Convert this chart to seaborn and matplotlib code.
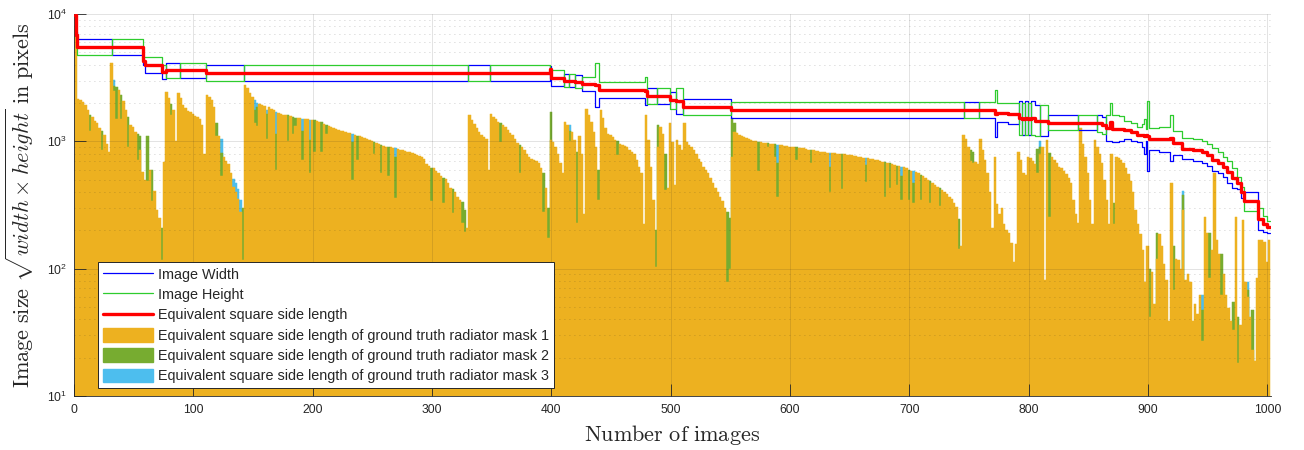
import numpy as np
import pandas as pd
import matplotlib
matplotlib.use("Agg")
import matplotlib.pyplot as plt
from matplotlib.lines import Line2D
from matplotlib.patches import Patch
from matplotlib.ticker import LogLocator, NullFormatter, FixedLocator
import seaborn as sns

# ---------------------------------------------------------------------------
# Data
# ---------------------------------------------------------------------------
n_images = 1002

# Image size as steps: first image of each run, its width and height (px)
seg_first_image = [1, 2, 3, 32, 58, 60, 74, 78, 89, 111, 143, 331, 349, 399, 400,
                   411, 415, 420, 426, 437, 440, 479, 481, 489, 500, 505, 511, 551,
                   746, 759, 772, 774, 783, 792, 795, 797, 800, 802, 806, 810, 817,
                   842, 858, 862, 865, 869, 870, 876, 880, 886, 891, 895, 897, 899,
                   900, 901, 910, 919, 921, 929, 938, 946, 950, 954, 959, 963, 967,
                   971, 975, 978, 981, 993, 997, 1000]
seg_width = [9000, 7200, 6400, 4800, 4000, 3456, 3100, 4160, 3120, 4000, 3000, 4000,
             3000, 3900, 2736, 3400, 2650, 3300, 2500, 1870, 2180, 1930, 2600, 1950,
             2450, 1650, 2160, 1536, 2048, 1536, 1075, 1420, 1360, 2056, 1130, 2056,
             1130, 2056, 1928, 1100, 1609, 1219, 1609, 1550, 1000, 1000, 980, 1000,
             1050, 1000, 980, 900, 800, 1000, 580, 860, 830, 700, 780, 720, 700, 680,
             640, 580, 560, 520, 470, 430, 420, 360, 400, 200, 195, 190]
seg_height = [10700, 6500, 4800, 6400, 4600, 4608, 4000, 3120, 4160, 3000, 4000, 3000,
              4000, 3500, 3648, 2650, 3400, 2600, 3200, 4100, 2940, 3200, 1950, 2600,
              1810, 2630, 1620, 2048, 1536, 2048, 2545, 1995, 1995, 1130, 2000, 1130,
              2000, 1130, 1100, 1928, 1219, 1609, 1190, 1150, 1600, 1995, 1620, 1580,
              1450, 1390, 1300, 1380, 1500, 1250, 2056, 1280, 1300, 1600, 1200, 1060,
              1040, 1000, 950, 880, 820, 760, 700, 620, 520, 440, 285, 300, 260, 235]

# Mask 1 equivalent side length, one value per pair of images (1-2, 3-4, ...)
mask1_len = [
    8000, 2150, 2100, 2050, 1930, 1760, 1200, 1560, 1450, 1390,
    1262, 850, 1113, 960, 825, 4100, 2500, 1500, 2529, 1500,
    2056, 1761, 910, 1343, 1303, 1190, 713, 854, 575, 497,
    490, 600, 340, 410, 289, 250, 117, 690, 2450, 2180,
    1600, 1761, 1000, 2390, 2180, 1928, 1840, 1740, 1690, 1640,
    1590, 1550, 1490, 1343, 790, 2310, 2220, 2110, 1870, 1100,
    1100, 530, 760, 700, 660, 565, 440, 400, 350, 280,
    117, 2768, 2620, 2390, 2240, 1390, 1320, 1980, 1928, 1880,
    1042, 1850, 1800, 1761, 595, 1680, 1640, 1620, 1610, 1000,
    1590, 1140, 1320, 1530, 1520, 713, 1500, 1490, 565, 1470,
    820, 1440, 1420, 820, 1370, 1140, 1330, 1300, 1280, 1250,
    1230, 1210, 1195, 1180, 1160, 1155, 497, 1130, 713, 1100,
    1085, 1060, 1040, 1020, 1000, 790, 965, 950, 565, 925,
    910, 530, 895, 890, 360, 870, 858, 850, 842, 830,
    820, 810, 795, 780, 765, 750, 725, 665, 640, 340,
    612, 585, 565, 530, 325, 505, 470, 430, 275, 400,
    365, 346, 230, 195, 210, 1609, 1470, 1370, 1262, 1190,
    1120, 1085, 1050, 595, 1640, 1560, 1490, 1420, 980, 1350,
    1290, 1227, 1160, 1113, 1040, 970, 565, 910, 854, 790,
    750, 725, 713, 700, 680, 615, 280, 430, 175, 1024,
    985, 910, 790, 680, 565, 1430, 1343, 1000, 1190, 1024,
    230, 1100, 790, 270, 1800, 1600, 1430, 1190, 910, 346,
    1760, 1530, 1262, 1140, 1113, 1075, 1030, 780, 960, 935,
    915, 895, 854, 820, 790, 713, 630, 565, 223, 1600,
    1024, 630, 346, 103, 900, 1300, 1140, 414, 430, 1390,
    985, 455, 1030, 935, 854, 1390, 985, 935, 910, 854,
    790, 730, 690, 630, 595, 565, 515, 475, 430, 400,
    365, 338, 300, 78, 100, 760, 1190, 1170, 1130, 1100,
    1075, 1060, 1045, 1030, 1015, 1000, 580, 985, 975, 970,
    900, 960, 950, 760, 365, 935, 930, 925, 920, 910,
    905, 900, 713, 890, 885, 880, 870, 860, 680, 850,
    840, 835, 830, 825, 820, 815, 400, 810, 805, 800,
    797, 420, 790, 785, 780, 775, 770, 765, 760, 752,
    745, 480, 735, 730, 725, 718, 710, 700, 693, 365,
    680, 430, 665, 655, 450, 640, 346, 625, 615, 346,
    590, 330, 575, 560, 346, 530, 515, 500, 330, 470,
    455, 440, 310, 414, 400, 385, 365, 350, 330, 305,
    144, 150, 1113, 1050, 910, 700, 680, 693, 660, 1050,
    854, 713, 565, 400, 210, 760, 320, 270, 300, 223,
    201, 190, 160, 113, 155, 825, 713, 565, 540, 760,
    740, 700, 660, 565, 800, 910, 82, 1024, 255, 760,
    713, 680, 630, 615, 585, 550, 515, 475, 346, 270,
    230, 1262, 960, 760, 565, 346, 223, 1024, 910, 790,
    680, 497, 346, 223, 790, 223, 760, 740, 713, 680,
    615, 550, 490, 400, 289, 223, 186, 140, 78, 150,
    42, 95, 53, 120, 186, 150, 108, 82, 39, 472,
    68, 120, 117, 100, 289, 82, 90, 78, 39, 53,
    44, 62, 27, 255, 190, 85, 140, 565, 168, 130,
    62, 90, 62, 49, 39, 33, 255, 18, 36, 241,
    78, 60, 42, 23, 19, 85, 168, 168, 163, 112, 168,
]

# Mask 2 equivalent side length (first image of the pair, value)
mask2_img = [13, 23, 33, 35, 39, 45, 53, 55, 61, 65, 73, 81, 119, 123, 141, 151, 153,
             161, 169, 179, 183, 185, 191, 197, 201, 207, 211, 233, 237, 251, 257,
             263, 269, 299, 309, 317, 325, 327, 357, 373, 393, 397, 399, 415, 421,
             439, 455, 487, 489, 495, 547, 549, 551, 553, 573, 581, 587, 589, 605,
             617, 633, 643, 663, 679, 683, 689, 693, 699, 703, 709, 717, 725, 741,
             751, 753, 807, 809, 817, 871, 901, 907, 921, 929, 945, 951, 961, 971,
             975, 983, 987]
mask2_len = [1620, 1200, 2700, 2685, 2310, 1540, 1140, 1100, 1100, 600, 210, 1980,
             1390, 813, 300, 1761, 1870, 1650, 1140, 1600, 1560, 1530, 1200, 1024,
             1460, 1410, 1350, 980, 1110, 985, 935, 900, 750, 620, 515, 420, 335, 290,
             1400, 930, 560, 300, 1700, 1200, 820, 595, 1010, 201, 1340, 790, 280,
             250, 1530, 1400, 985, 965, 945, 680, 895, 855, 630, 793, 650, 685, 675,
             640, 530, 600, 470, 545, 485, 430, 245, 854, 820, 870, 900, 813, 330,
             100, 190, 150, 380, 47, 190, 130, 55, 42, 68, 47]

# Mask 3 equivalent side length (first image of the pair, value)
mask3_img = [33, 123, 133, 135, 137, 139, 151, 153, 161, 169, 191, 197, 233, 269, 415,
             589, 633, 663, 693, 703, 809, 929, 945, 983]
mask3_len = [3030, 1042, 510, 470, 420, 346, 2110, 2000, 1761, 1700, 1500, 1470, 1140,
             880, 1343, 940, 810, 740, 630, 580, 1000, 410, 62, 78]

labels = ["Image Width", "Image Height", "Equivalent square side length",
          "Equivalent square side length of ground truth radiator mask 1",
          "Equivalent square side length of ground truth radiator mask 2",
          "Equivalent square side length of ground truth radiator mask 3"]

# ---------------------------------------------------------------------------
# Style
# ---------------------------------------------------------------------------
c_mask1, c_mask2, c_mask3 = "#EDB120", "#77AC30", "#4DBEEE"
c_width, c_height, c_equiv = "#0000FF", "#2ECC2E", "#FF0000"
ink = "#262626"

sns.set_theme(style="white")
plt.rcParams["font.family"] = ["Liberation Sans", "DejaVu Sans"]
plt.rcParams["mathtext.fontset"] = "cm"
plt.rcParams["axes.edgecolor"] = ink
plt.rcParams["text.color"] = ink
plt.rcParams["axes.labelcolor"] = ink

fig = plt.figure(figsize=(13.04, 4.5), dpi=100)
ax = fig.add_axes([0.05675, 0.12, 0.91794, 0.84889])

# ---------------------------------------------------------------------------
# Bars: back to front mask 3, mask 2, mask 1
# ---------------------------------------------------------------------------
pair_x = 1.5 + 2 * np.arange(len(mask1_len))
bars = pd.concat([
    pd.DataFrame({"image": pair_x, "length": mask1_len, "mask": "mask 1"}),
    pd.DataFrame({"image": np.array(mask2_img) + 0.5, "length": mask2_len, "mask": "mask 2"}),
    pd.DataFrame({"image": np.array(mask3_img) + 0.5, "length": mask3_len, "mask": "mask 3"}),
], ignore_index=True)

sns.barplot(data=bars, x="image", y="length", hue="mask",
            hue_order=["mask 3", "mask 2", "mask 1"],
            palette={"mask 1": c_mask1, "mask 2": c_mask2, "mask 3": c_mask3},
            native_scale=True, dodge=False, width=1.0, errorbar=None,
            saturation=1, legend=False, ax=ax)

# close the hairline seams between neighbouring bars
for bar in ax.patches:
    bar.set_edgecolor(bar.get_facecolor())
    bar.set_linewidth(0.35)
    bar.set_antialiased(True)

ax.set_yscale("log")

# ---------------------------------------------------------------------------
# Image size step lines
# ---------------------------------------------------------------------------
step_x = np.append(np.array(seg_first_image) - 0.5, n_images + 0.5)
w = np.append(seg_width, seg_width[-1]).astype(float)
h = np.append(seg_height, seg_height[-1]).astype(float)
eq = np.sqrt(w * h)

sns.lineplot(x=step_x, y=w, drawstyle="steps-post", color=c_width, linewidth=0.9,
             estimator=None, sort=False, ax=ax, zorder=3)
sns.lineplot(x=step_x, y=h, drawstyle="steps-post", color=c_height, linewidth=0.9,
             estimator=None, sort=False, ax=ax, zorder=3)
sns.lineplot(x=step_x, y=eq, drawstyle="steps-post", color=c_equiv, linewidth=2.4,
             estimator=None, sort=False, ax=ax, zorder=4)

# ---------------------------------------------------------------------------
# Axes
# ---------------------------------------------------------------------------
ax.set_xlim(0, n_images + 1)
ax.set_ylim(10, 10000)
ax.xaxis.set_major_locator(FixedLocator(np.arange(0, 1001, 100)))
ax.yaxis.set_major_locator(LogLocator(base=10, numticks=10))
ax.yaxis.set_minor_locator(LogLocator(base=10, subs=np.arange(2, 10), numticks=20))
ax.yaxis.set_minor_formatter(NullFormatter())

ax.tick_params(axis="both", which="major", direction="in", length=8.5, width=0.6,
               color=ink, labelcolor=ink, labelsize=8.7)
ax.tick_params(axis="y", which="minor", direction="in", length=3, width=0.6, color=ink)
ax.tick_params(axis="x", which="major", pad=6)
ax.tick_params(axis="y", which="major", pad=5)
ax.tick_params(bottom=True, left=True, top=False, right=False)

ax.set_axisbelow(False)
ax.grid(True, which="major", axis="both", color=ink, alpha=0.15, linewidth=0.6)
ax.grid(True, which="minor", axis="y", color=ink, alpha=0.3, linewidth=0.6,
        linestyle=(0, (1, 5)))

for side in ("top", "right"):
    ax.spines[side].set_visible(False)
for side in ("left", "bottom"):
    ax.spines[side].set_color(ink)
    ax.spines[side].set_linewidth(0.6)

ax.set_xlabel(r"$\mathrm{Number\ of\ images}$", fontsize=16, color=ink)
ax.set_ylabel(r"$\mathrm{Image\ size}\ \sqrt{width \times height}\ \mathrm{in\ pixels}$",
              fontsize=16, color=ink)
ax.xaxis.set_label_coords(0.5, -0.07)
ax.yaxis.set_label_coords(-0.032, 0.5)

handles = [
    Line2D([], [], color=c_width, linewidth=0.9),
    Line2D([], [], color=c_height, linewidth=0.9),
    Line2D([], [], color=c_equiv, linewidth=2.4),
    Patch(facecolor=c_mask1, edgecolor=c_mask1),
    Patch(facecolor=c_mask2, edgecolor=c_mask2),
    Patch(facecolor=c_mask3, edgecolor=c_mask3),
]
leg = ax.legend(handles, labels, loc="lower left", bbox_to_anchor=(0.0203, 0.020),
                borderaxespad=0, frameon=True, fancybox=False, framealpha=1,
                edgecolor=ink, fontsize=10.4, handlelength=3.47, handleheight=1.09,
                handletextpad=0.3, labelspacing=0.38, borderpad=0.35)
leg.get_frame().set_linewidth(0.7)
leg.set_zorder(10)

fig.savefig("out.png", dpi=100)
